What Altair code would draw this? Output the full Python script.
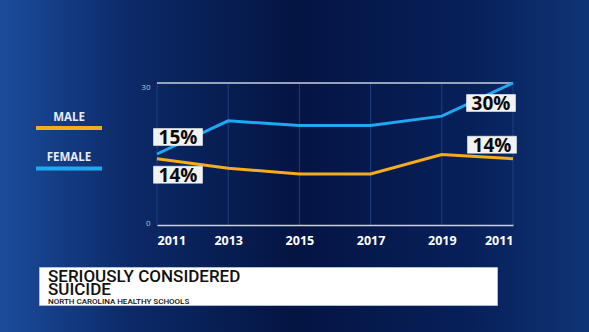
import altair as alt
import pandas as pd

# ---- data ----
x_labels = ["2011", "2013", "2015", "2017", "2019", "2011"]
female = [15, 22, 21, 21, 23, 30]
male = [14, 12, 10.8, 10.8, 14.9, 14]
series_names = ["MALE", "FEMALE"]
series_colors = ["#f5ad1b", "#1ea9f2"]
title_lines = ["SERIOUSLY CONSIDERED", "SUICIDE"]
subtitle = "NORTH CAROLINA HEALTHY SCHOOLS"

rows = []
for i, lab in enumerate(x_labels):
    rows.append({"idx": i, "label": lab, "series": "FEMALE", "value": female[i]})
    rows.append({"idx": i, "label": lab, "series": "MALE", "value": male[i]})
df = pd.DataFrame(rows)
ticks_df = pd.DataFrame({"idx": list(range(len(x_labels))), "label": x_labels})

W, H = 356, 142
PAD_L, PAD_T = 157, 83
TOTAL_W, TOTAL_H = 589, 332

label_expr = "[" + ",".join(f"'{l}'" for l in x_labels) + "][datum.value]"
x_scale = alt.Scale(domain=[0, len(x_labels) - 1], nice=False, zero=False)
y_scale = alt.Scale(domain=[0, 30], nice=False)

x_enc = alt.X("idx:Q", scale=x_scale,
              axis=alt.Axis(values=list(range(len(x_labels))), labelExpr=label_expr, title=None,
                            grid=False, ticks=False, zindex=1,
                            domain=True, domainColor="#c9cfdc", domainWidth=1.5,
                            labelColor="#ffffff", labelFont="Open Sans", labelFontWeight="bold",
                            labelFontSize=12.5, labelPadding=9))
y_enc = alt.Y("value:Q", scale=y_scale,
              axis=alt.Axis(values=[0, 30], title=None, grid=False, ticks=False, domain=False,
                            zindex=1,
                            labelColor="#b8c2d6", labelFont="Open Sans", labelFontSize=8,
                            labelPadding=7, labelBaseline="middle",
                            labelOffset={"condition": {"test": "datum.value == 30", "value": 4},
                                         "value": -2}))

color_scale = alt.Scale(domain=series_names, range=series_colors)

bg = alt.Chart(ticks_df).mark_rect(
    fill=alt.Gradient(gradient="linear",
                      stops=[alt.GradientStop(offset=0, color="#1b4c9c"),
                             alt.GradientStop(offset=0.22, color="#0c2a68"),
                             alt.GradientStop(offset=0.5, color="#041443"),
                             alt.GradientStop(offset=0.8, color="#07205a"),
                             alt.GradientStop(offset=1, color="#0f3476")],
                      x1=0, x2=1, y1=0, y2=0)
).encode(x=alt.value(-PAD_L), x2=alt.value(TOTAL_W - PAD_L),
         y=alt.value(-PAD_T), y2=alt.value(TOTAL_H - PAD_T))

# vertical grid lines
vgrid = alt.Chart(ticks_df).mark_rule(color="#1f3f85", strokeWidth=1).encode(
    x=alt.X("idx:Q", scale=x_scale), y=alt.value(0), y2=alt.value(H))

topline = alt.Chart(pd.DataFrame({"v": [30]})).mark_rule(color="#c9cfdc", strokeWidth=1.5).encode(
    y=alt.Y("v:Q", scale=y_scale))

lines = alt.Chart(df).mark_line(strokeWidth=3).encode(
    x=x_enc, y=y_enc,
    color=alt.Color("series:N", scale=color_scale, legend=None),
    detail="series:N")


def label_layer(series, idx, dx, dy):
    vals = female if series == "FEMALE" else male
    d = pd.DataFrame({"idx": [idx], "value": [vals[idx]], "txt": [f"{round(vals[idx])}%"]})
    c = alt.Chart(d)
    box = c.mark_rect(width=49, height=17, xOffset=dx, yOffset=dy, fill="#f2f2f2",
                      stroke="#ffffff", strokeWidth=0.5).encode(
        x=alt.X("idx:Q"), y=alt.Y("value:Q"))
    txt = c.mark_text(font="Open Sans", fontWeight="bold", fontSize=19, color="#0b0b0b",
                      dx=dx, dy=dy + 1, baseline="middle", align="center").encode(
        x=alt.X("idx:Q"), y=alt.Y("value:Q"), text="txt:N")
    return box + txt


labels = (label_layer("FEMALE", 0, 21, -17) + label_layer("MALE", 0, 21, 16)
          + label_layer("FEMALE", 5, -22, 20) + label_layer("MALE", 5, -21, -14))

# legend (custom, drawn at left)
leg_male_t = alt.Chart(pd.DataFrame({"t": [series_names[0]]})).mark_text(
    font="Open Sans", fontWeight="bold", fontSize=11.5, color="#e8ecf4", align="center",
    baseline="middle").encode(text="t:N", x=alt.value(-88), y=alt.value(35))
leg_male_l = alt.Chart(pd.DataFrame({"t": [series_names[0]]})).mark_rule(
    color=series_colors[0], strokeWidth=4).encode(x=alt.value(-121), x2=alt.value(-55), y=alt.value(45))
leg_fem_t = alt.Chart(pd.DataFrame({"t": [series_names[1]]})).mark_text(
    font="Open Sans", fontWeight="bold", fontSize=11.5, color="#e8ecf4", align="center",
    baseline="middle").encode(text="t:N", x=alt.value(-88), y=alt.value(75))
leg_fem_l = alt.Chart(pd.DataFrame({"t": [series_names[1]]})).mark_rule(
    color=series_colors[1], strokeWidth=4).encode(x=alt.value(-121), x2=alt.value(-55), y=alt.value(85.5))

# title box
tbox = alt.Chart(pd.DataFrame({"t": [0]})).mark_rect(
    fill="#ffffff", stroke="#a9bde0", strokeWidth=1).encode(
    x=alt.value(-117.5), x2=alt.value(340.5), y=alt.value(184.5), y2=alt.value(222.5))
t1 = alt.Chart(pd.DataFrame({"t": [title_lines[0]]})).mark_text(
    font="Roboto", fontWeight=500, fontSize=17, color="#101010", align="left",
    baseline="alphabetic").encode(text="t:N", x=alt.value(-109), y=alt.value(199))
t2 = alt.Chart(pd.DataFrame({"t": [title_lines[1]]})).mark_text(
    font="Roboto", fontWeight=500, fontSize=17, color="#101010", align="left",
    baseline="alphabetic").encode(text="t:N", x=alt.value(-109), y=alt.value(212))
t3 = alt.Chart(pd.DataFrame({"t": [subtitle]})).mark_text(
    font="Roboto", fontWeight=500, fontSize=8, color="#101010", align="left",
    baseline="alphabetic").encode(text="t:N", x=alt.value(-109), y=alt.value(220.5))

chart = alt.layer(
    bg, vgrid, topline, lines, labels,
    leg_male_t, leg_male_l, leg_fem_t, leg_fem_l,
    tbox, t1, t2, t3
).properties(
    width=W, height=H,
    autosize=alt.AutoSizeParams(type="none"),
    padding={"left": PAD_L, "top": PAD_T, "right": TOTAL_W - PAD_L - W, "bottom": TOTAL_H - PAD_T - H},
    background="#061a4c"
).configure_view(stroke=None)

chart.save("out.html", embed_options={"renderer": "svg", "actions": False})
